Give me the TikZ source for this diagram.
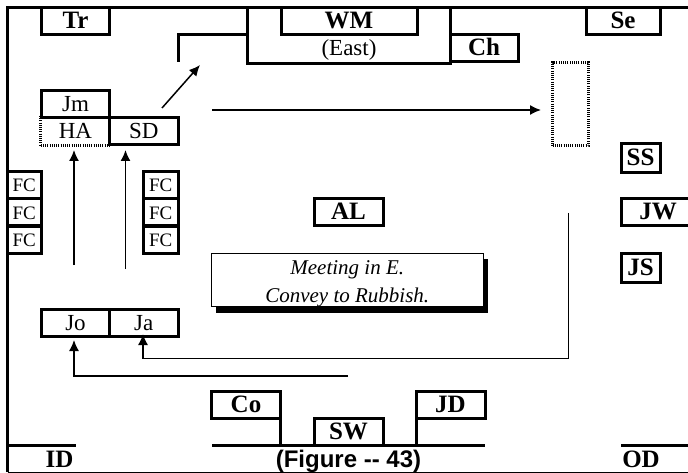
\documentclass[tikz,border=0pt]{standalone}
\usepackage{fontspec}
\setmainfont{Liberation Serif}
\newfontfamily\capfont{Liberation Sans}
\usepackage{tikz}
\usetikzlibrary{shadows,arrows.meta}
\tikzstyle{edge}=[line width=3pt]
\tikzstyle{thinedge}=[line width=1pt]
\tikzstyle{dedge}=[line width=1.5pt,-{Latex[length=11pt,width=10pt]}]
\tikzstyle{dotedge}=[line width=3pt,dash pattern=on 1pt off 1.2pt]
\tikzstyle{seat}=[rectangle, draw, edge, inner sep=0pt, minimum height=27pt, text height=15pt, text depth=0pt, font=\fontsize{23}{24}\selectfont]
\tikzstyle{bseat}=[seat, font=\fontsize{25}{26}\selectfont\bfseries]
\tikzstyle{fcseat}=[seat, minimum width=34.5pt, text height=13pt, font=\fontsize{19}{20}\selectfont]
\tikzstyle{labelsty}=[inner sep=0pt, text height=15pt, text depth=0pt, font=\fontsize{25}{26}\selectfont\bfseries]

\begin{document}
\begin{tikzpicture}[x=1pt,y=-1pt]
	\useasboundingbox (0,0) rectangle (688,473);

	% outer wall
	\coordinate (fb) at (7.5,472);
	\coordinate (ftl) at (7.5,8);
	\coordinate (ftr) at (688,8);
	\coordinate (fbr) at (688,472);
	\draw[edge] (fb) -- (ftl) -- (ftr);
	\draw[thinedge] (fb) -- (fbr);

	% east
	\node[bseat,minimum width=68pt] (Tr) at (75.5,21.5) {Tr};
	\node[bseat,minimum width=136pt] (WM) at (349,21.5) {WM};
	\node[bseat,minimum width=74pt] (Se) at (623,21.5) {Se};
	\node[bseat,minimum width=68pt] (Ch) at (484,48.5) {Ch};
	\node[seat,draw=none,minimum width=136pt] (East) at (349,48.5) {(East)};
	\coordinate (el) at (247,8);
	\coordinate (er) at (450,8);
	\coordinate (es) at (247,35);
	\coordinate (et) at (178,35);
	\coordinate (eb) at (178,62);
	\draw[edge] (el) |- (er |- East.south) -- (er);
	\draw[edge] (es) -- (et) -- (eb);

	% north side
	\node[seat,minimum width=68pt] (Jm) at (75.5,104) {Jm};
	\node[seat,draw=none,minimum width=68pt] (HA) at (75.5,131) {HA};
	\node[seat,minimum width=68.5pt] (SD) at (143.75,131) {SD};
	\draw[dotedge] (HA.north west) |- (HA.south east);
	\node[dotedge,draw,rectangle,inner sep=0pt,minimum width=35.5pt,minimum height=83.5pt] (dotbox) at (570.25,104) {};

	\foreach \y/\n in {185.5/a,212.5/b,240/c}{
		\node[fcseat] (FCl\n) at (24.25,\y) {FC};
		\node[fcseat] (FCr\n) at (160.75,\y) {FC};
	}

	% south side
	\node[bseat,minimum width=39pt,minimum height=29pt] (SS) at (640.5,158.5) {SS};
	\node[bseat,minimum width=74pt] (JW) at (658,212.5) {JW};
	\node[bseat,minimum width=39pt,minimum height=29pt] (JS) at (640.5,268) {JS};
	\node[bseat,minimum width=69pt] (AL) at (348.5,212.5) {AL};

	% note
	\node[draw,thinedge,rectangle,fill=white,inner sep=0pt,minimum width=272.5pt,minimum height=53.5pt,drop shadow={shadow xshift=4.5pt,shadow yshift=-6pt,opacity=1,fill=black}] (note) at (347.25,280) {};
	\node[inner sep=0pt,align=center,font=\fontsize{21}{28}\selectfont\itshape] (notetext) at (347.25,284) {Meeting in E.\\Convey to Rubbish.};

	\node[seat,minimum width=68pt] (Jo) at (75.5,322.5) {Jo};
	\node[seat,minimum width=68.5pt] (Ja) at (143.75,322.5) {Ja};

	% west
	\node[bseat,minimum width=69pt] (Co) at (246,404.5) {Co};
	\node[bseat,minimum width=69pt] (JD) at (450.5,404.5) {JD};
	\node[bseat,minimum width=69pt] (SW) at (348.5,432) {SW};
	\coordinate (wl) at (280.5,391);
	\coordinate (wr) at (416.3,391);
	\coordinate (wa) at (212,445.7);
	\coordinate (wb) at (485,445.7);
	\coordinate (ida) at (7.5,445.7);
	\coordinate (idb) at (76,445.7);
	\coordinate (oda) at (621,445.7);
	\coordinate (odb) at (688,445.7);
	\draw[edge] (wl) -- (wl |- wa);
	\draw[edge] (wr) -- (wr |- wa);
	\draw[edge] (wa) -- (wb);
	\draw[edge] (ida) -- (idb);
	\draw[edge] (oda) -- (odb);

	\node[labelsty] (ID) at (59.5,460) {ID};
	\node[labelsty] (OD) at (641,460) {OD};
	\node[labelsty,font=\fontsize{24}{25}\selectfont\capfont\bfseries] (fig) at (348.5,460) {(Figure -- 43)};

	% floor work
	\coordinate (a0) at (162,108);
	\coordinate (a1) at (200,65);
	\draw[dedge] (a0) -- (a1);
	\coordinate (b0) at (212,110);
	\coordinate (b1) at (541,110);
	\draw[dedge] (b0) -- (b1);
	\coordinate (c0) at (74,265);
	\coordinate (c1) at (74,150);
	\draw[dedge] (c0) -- (c1);
	\coordinate (d0) at (125.5,269);
	\coordinate (d1) at (125.5,150);
	\draw[dedge] (d0) -- (d1);
	\coordinate (e0) at (568.5,213);
	\coordinate (e1) at (568.5,358.5);
	\coordinate (e2) at (143,358.5);
	\coordinate (e3) at (143,334);
	\draw[dedge] (e0) -- (e1) -- (e2) -- (e3);
	\coordinate (g0) at (348,376);
	\coordinate (g1) at (74,376);
	\coordinate (g2) at (74,340);
	\draw[dedge] (g0) -- (g1) -- (g2);

\end{tikzpicture}
\end{document}
